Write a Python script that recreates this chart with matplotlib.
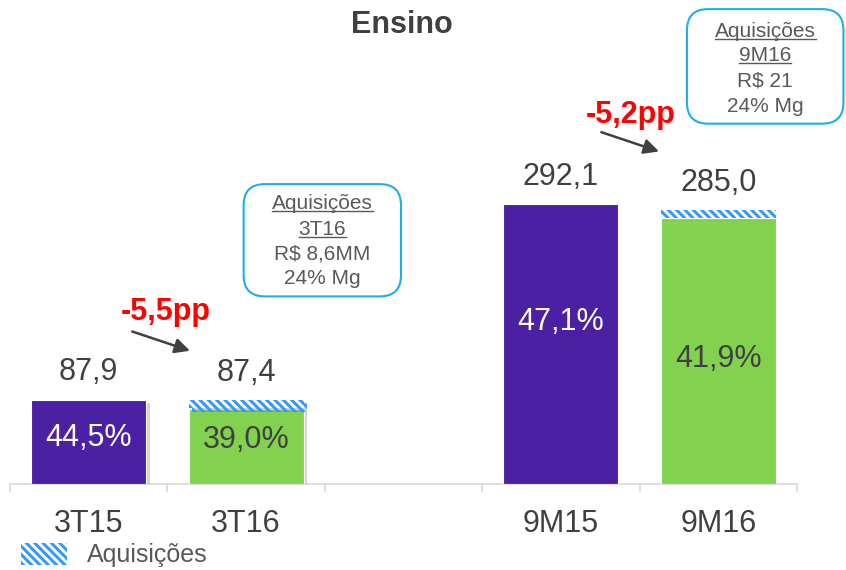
import matplotlib
matplotlib.use("Agg")
import matplotlib.pyplot as plt
import matplotlib.patheffects as pe
from matplotlib.patches import FancyBboxPatch, Rectangle
from matplotlib.lines import Line2D
import numpy as np

plt.rcParams["font.family"] = ["Liberation Sans", "DejaVu Sans"]
plt.rcParams["hatch.linewidth"] = 2.2
plt.rcParams["hatch.color"] = "#3399ff"

# data
categories = ["3T15", "3T16", "", "9M15", "9M16"]
bar_pos = [0, 1, 3, 4]
totals = [87.9, 87.4, 292.1, 285.0]
acquisitions = [0.0, 9.0, 0.0, 8.0]
margins = ["44,5%", "39,0%", "47,1%", "41,9%"]
value_labels = ["87,9", "87,4", "292,1", "285,0"]
deltas = ["-5,5pp", "-5,2pp"]
box_texts = [
    ["Aquisições", "3T16", "R$ 8,6MM", "24% Mg"],
    ["Aquisições", "9M16", "R$ 21", "24% Mg"],
]

PURPLE = "#4b20a3"
GREEN = "#82d24f"
DARK = "#404040"
GRAY = "#595959"

base = np.array(totals) - np.array(acquisitions)
colors = [PURPLE, GREEN, PURPLE, GREEN]
margin_colors = ["white", DARK, "white", DARK]
inner_frac = [0.55, 0.59, 0.58, 0.47]
shadowed = [True, True, False, False]

fig = plt.figure(figsize=(8.46, 5.70), dpi=100)
ax = fig.add_axes([0.0118, 0.151, 0.9303, 0.849])
ax.set_xlim(-0.5, 4.5)
ax.set_ylim(0, 505)

shadow = [pe.SimplePatchShadow(offset=(2.5, -2.5), shadow_rgbFace="#888888", alpha=0.35), pe.Normal()]

for i, x in enumerate(bar_pos):
    b = ax.bar(x, base[i], width=0.73, color=colors[i], edgecolor="white", linewidth=0.8, zorder=3)
    if shadowed[i]:
        b[0].set_path_effects(shadow)
    if acquisitions[i] > 0:
        h = ax.bar(x, acquisitions[i], bottom=base[i] + 0.6, width=0.73, color="white",
                   edgecolor="#3399ff", hatch="\\\\\\\\", linewidth=0, zorder=3)
        if shadowed[i]:
            h[0].set_path_effects(shadow)
    ax.annotate(value_labels[i], (x, totals[i]), xytext=(0, 9), textcoords="offset points",
                ha="center", va="bottom", fontsize=22, color=DARK)
    ax.text(x, base[i] * inner_frac[i], margins[i], ha="center", va="center",
            fontsize=22, color=margin_colors[i], zorder=4)

# axis styling
for s in ["top", "right", "left"]:
    ax.spines[s].set_visible(False)
ax.spines["bottom"].set_color("#d9d9d9")
ax.spines["bottom"].set_linewidth(1.2)
ax.set_yticks([])
ax.set_xticks(range(len(categories)))
ax.set_xticklabels(categories, fontsize=22, color=DARK)
ax.tick_params(axis="x", which="major", length=0, pad=18)
ax.set_xticks(np.arange(-0.5, 5, 1.0), minor=True)
ax.tick_params(axis="x", which="minor", length=6, width=1.2, color="#d9d9d9", direction="out")

# delta annotations
arrows = [((0.26, 160), (0.66, 138)), ((3.24, 368), (3.64, 346))]
delta_xy = [(0.49, 179), (3.445, 385)]
for (start, end), txt, xy in zip(arrows, deltas, delta_xy):
    ax.annotate("", xy=end, xytext=start,
                arrowprops=dict(arrowstyle="-|>,head_length=0.9,head_width=0.45", color=DARK, lw=1.8))
    ax.text(xy[0], xy[1], txt, ha="center", va="center", fontsize=22, fontweight="bold", color="red")

fig.text(0.475, 0.957, "Ensino", ha="center", va="center", fontsize=22, fontweight="bold", color=DARK)

# acquisition boxes
boxes = [(0.288, 0.480, 0.186, 0.197), (0.812, 0.783, 0.185, 0.201)]
box_lines_y = [[0.643, 0.597, 0.554, 0.511], [0.944, 0.902, 0.858, 0.814]]
underline_items = []
for (bx, by, bw, bh), lines, ys in zip(boxes, box_texts, box_lines_y):
    fig.patches.append(FancyBboxPatch((bx, by), bw, bh, boxstyle="round,pad=0,rounding_size=0.025",
                                      transform=fig.transFigure, facecolor="white",
                                      edgecolor="#1cb0e6", linewidth=1.5, mutation_aspect=846 / 570))
    cx = bx + bw / 2
    for j, (line, y) in enumerate(zip(lines, ys)):
        t = fig.text(cx, y, line, ha="center", va="center", fontsize=15, color=GRAY)
        if j < 2:
            underline_items.append(t)

# legend
fig.patches.append(Rectangle((0.0248, 0.0088), 0.0544, 0.0386, transform=fig.transFigure,
                             facecolor="white", edgecolor="#3399ff", hatch="\\\\\\\\", linewidth=0))
fig.text(0.103, 0.026, "Aquisições", ha="left", va="center", fontsize=18, color=GRAY)

fig.canvas.draw()
renderer = fig.canvas.get_renderer()
inv = fig.transFigure.inverted()
for t in underline_items:
    bb = t.get_window_extent(renderer)
    (x0, y0), (x1, _) = inv.transform([(bb.x0, bb.y0 + 2), (bb.x1, bb.y0)])
    fig.lines.append(Line2D([x0, x1], [y0, y0], transform=fig.transFigure, color=GRAY, linewidth=1.0))

fig.savefig("out.png", dpi=100)
